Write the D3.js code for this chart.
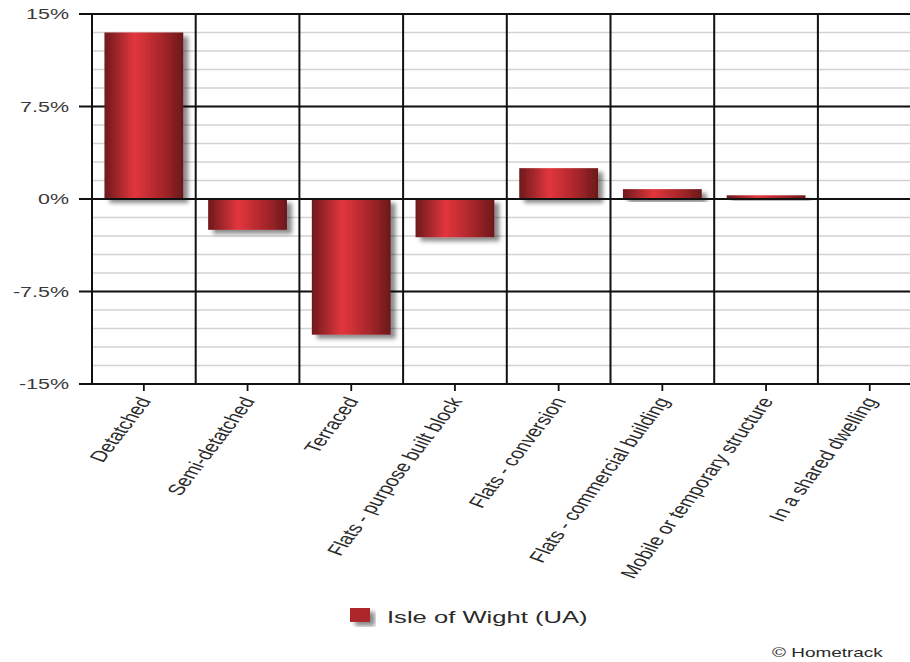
<!DOCTYPE html>
<html>
<head>
<meta charset="utf-8">
<script src="https://cdn.jsdelivr.net/npm/d3@7"></script>
<style>
  body { margin: 0; background: #fff; }
  svg { display: block; font-family: "Liberation Sans", Arial, sans-serif; }
</style>
</head>
<body>
<div id="chart"></div>
<script>
var categories = ["Detatched", "Semi-detatched", "Terraced", "Flats - purpose built block",
    "Flats - conversion", "Flats - commercial building", "Mobile or temporary structure",
    "In a shared dwelling"];
var values = [13.5, -2.5, -11.0, -3.1, 2.5, 0.8, 0.3, 0];
var majorTicks = [15, 7.5, 0, -7.5, -15];
var tickLabels = ["15%", "7.5%", "0%", "-7.5%", "-15%"];
var seriesName = "Isle of Wight (UA)";

var width = 910;
var height = 662;
var sx = 1.48; // the picture is stretched sideways, text follows it

var svg = d3.select('#chart')
    .append('svg')
        .attr('width', width)
        .attr('height', height);

var defs = svg.append('defs');

var grad = defs.append('linearGradient')
    .attr('id', 'barGrad')
    .attr('x1', '0%').attr('x2', '100%')
    .attr('y1', '0%').attr('y2', '0%');
grad.append('stop').attr('offset', '0%').attr('stop-color', '#6e191c');
grad.append('stop').attr('offset', '38%').attr('stop-color', '#e2363d');
grad.append('stop').attr('offset', '75%').attr('stop-color', '#a42529');
grad.append('stop').attr('offset', '100%').attr('stop-color', '#6a181b');

var shadow = defs.append('filter')
    .attr('id', 'shadow')
    .attr('x', '-20%').attr('y', '-20%')
    .attr('width', '150%').attr('height', '150%');
shadow.append('feDropShadow')
    .attr('dx', 5).attr('dy', 4)
    .attr('stdDeviation', 2.2)
    .attr('flood-color', '#000')
    .attr('flood-opacity', 0.45);

var x = d3.scaleBand()
    .domain(categories)
    .range([92, 92 + 8 * 103.7])
    .padding(0);

var y = d3.scaleLinear()
    .domain([-15, 15])
    .range([384, 14]);

var chart = svg.append('g');

// minor grid every 1.5%
var minor = d3.range(-15, 15.01, 1.5);
chart.selectAll('.minor')
    .data(minor)
    .enter()
    .append('line')
        .attr('x1', x.range()[0])
        .attr('x2', x.range()[1])
        .attr('y1', d => y(d))
        .attr('y2', d => y(d))
        .attr('stroke', '#d2d2d2')
        .attr('stroke-width', 1.5);

// category separators
chart.selectAll('.sep')
    .data(categories)
    .enter()
    .append('line')
        .attr('x1', d => x(d))
        .attr('x2', d => x(d))
        .attr('y1', y(15))
        .attr('y2', y(-15))
        .attr('stroke', '#111')
        .attr('stroke-width', 2);

// major lines + tick marks
chart.selectAll('.major')
    .data(majorTicks)
    .enter()
    .append('line')
        .attr('x1', 79)
        .attr('x2', x.range()[1])
        .attr('y1', d => y(d))
        .attr('y2', d => y(d))
        .attr('stroke', '#111')
        .attr('stroke-width', 1.8);

chart.selectAll('.ylab')
    .data(majorTicks)
    .enter()
    .append('text')
        .attr('transform', d => 'translate(69,' + (y(d) + 5) + ') scale(' + sx + ',1)')
        .attr('text-anchor', 'end')
        .attr('font-size', 14.5)
        .attr('fill', '#3a3a3a')
        .text((d, i) => tickLabels[i]);

// bars
var bw = x.bandwidth() * 0.76;
chart.selectAll('.bar')
    .data(values)
    .enter()
    .append('rect')
        .attr('x', (d, i) => x(categories[i]) + (x.bandwidth() - bw) / 2)
        .attr('y', d => y(Math.max(0, d)))
        .attr('width', bw)
        .attr('height', d => Math.abs(y(d) - y(0)))
        .attr('fill', 'url(#barGrad)')
        .attr('filter', 'url(#shadow)')
        .style('display', d => d === 0 ? 'none' : null);

// redraw zero line over the bars
chart.append('line')
    .attr('x1', x.range()[0])
    .attr('x2', x.range()[1])
    .attr('y1', y(0))
    .attr('y2', y(0))
    .attr('stroke', '#111')
    .attr('stroke-width', 1.8);

// bottom ticks and rotated labels
chart.selectAll('.xtick')
    .data(categories)
    .enter()
    .append('line')
        .attr('x1', d => x(d) + x.bandwidth() / 2)
        .attr('x2', d => x(d) + x.bandwidth() / 2)
        .attr('y1', y(-15))
        .attr('y2', y(-15) + 7)
        .attr('stroke', '#111')
        .attr('stroke-width', 1.8);

chart.selectAll('.xlab')
    .data(categories)
    .enter()
    .append('text')
        .attr('transform', d => 'translate(' + (x(d) + x.bandwidth() / 2 + 8) + ',' + (y(-15) + 17) + ') scale(' + sx + ',1) rotate(-62)')
        .attr('text-anchor', 'end')
        .attr('font-size', 15.5)
        .attr('fill', '#2a2a2a')
        .text(d => d);

// legend
var legend = svg.append('g')
    .attr('transform', 'translate(350, 608)');

legend.append('rect')
    .attr('width', 20)
    .attr('height', 14)
    .attr('fill', '#ad272c')
    .attr('filter', 'url(#shadow)');

legend.append('text')
    .attr('transform', 'translate(37, 15) scale(' + sx + ',1)')
    .attr('font-size', 17.3)
    .attr('fill', '#2a2a2a')
    .text(seriesName);

svg.append('text')
    .attr('transform', 'translate(772, 657) scale(' + sx + ',1)')
    .attr('font-size', 12.8)
    .attr('fill', '#2a2a2a')
    .text('\u00a9 Hometrack');
</script>
</body>
</html>
